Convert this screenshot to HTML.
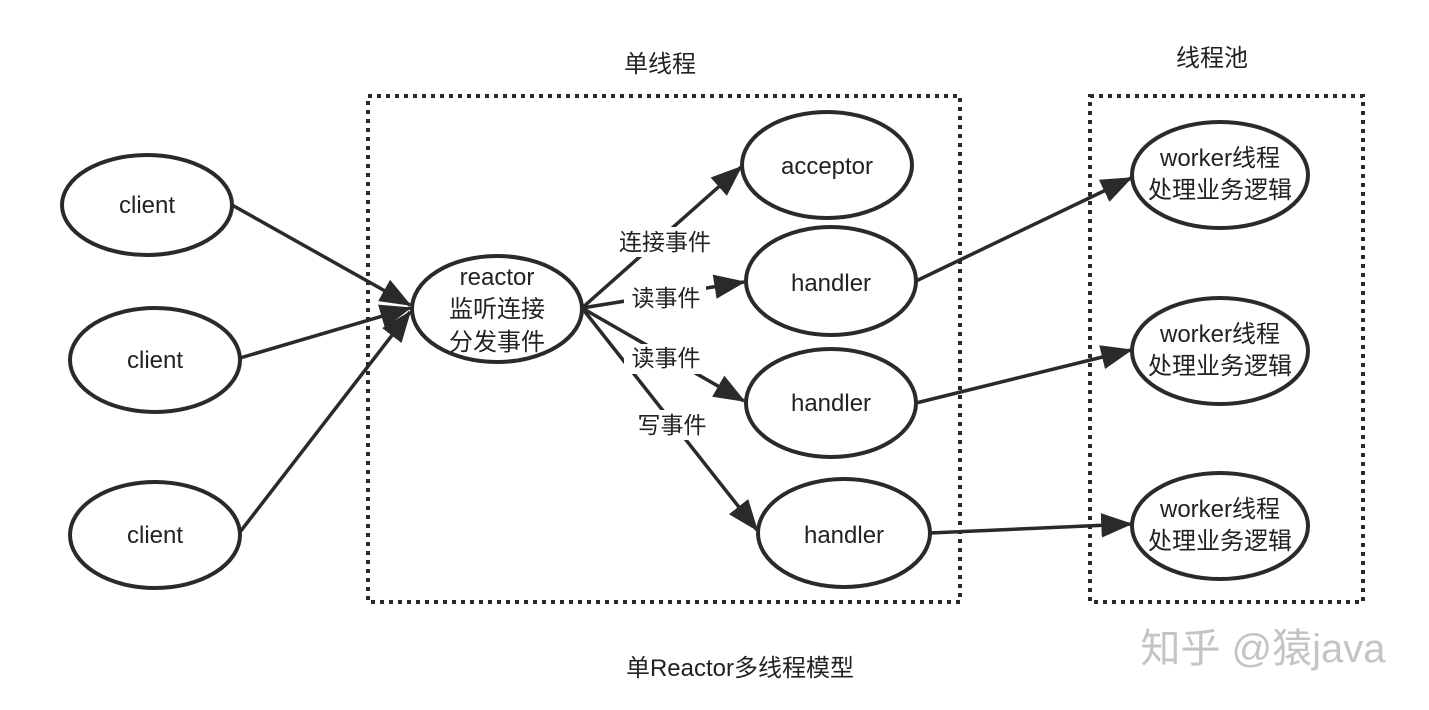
<!DOCTYPE html>
<html><head><meta charset="utf-8"><style>
html,body{margin:0;padding:0;background:#fff;}
svg{display:block;}
text{font-family:"Liberation Sans","Noto Sans CJK SC",sans-serif;fill:#222;}
</style></head><body>
<svg width="1429" height="710" viewBox="0 0 1429 710" xmlns="http://www.w3.org/2000/svg">
<defs>
<marker id="a" markerWidth="9" markerHeight="7" refX="8.5" refY="3.5" orient="auto" markerUnits="strokeWidth">
<path d="M0,0 L9,3.5 L0,7 Z" fill="#2a2a2a"/>
</marker>
</defs>
<g fill="none" stroke="#2a2a2a" stroke-width="4" stroke-dasharray="4,5">
<rect x="368" y="96" width="592" height="506"/>
<rect x="1090" y="96" width="273" height="506"/>
</g>
<text x="660" y="72" font-size="24" text-anchor="middle">单线程</text>
<text x="1212" y="66" font-size="24" text-anchor="middle">线程池</text>
<text x="740" y="676" font-size="24" text-anchor="middle">单Reactor多线程模型</text>
<text x="1263" y="662" font-size="40" text-anchor="middle" style="fill:#c4c4c4">知乎 @猿java</text>

<g stroke="#2a2a2a" stroke-width="3.5" fill="none" marker-end="url(#a)">
<line x1="232" y1="205" x2="410" y2="305"/>
<line x1="240" y1="358" x2="410" y2="308"/>
<line x1="240" y1="532" x2="410" y2="312"/>
<line x1="582" y1="308" x2="741" y2="167"/>
<line x1="582" y1="308" x2="744" y2="282"/>
<line x1="582" y1="308" x2="744" y2="401"/>
<line x1="582" y1="308" x2="757" y2="530"/>
<line x1="916" y1="281" x2="1131" y2="178"/>
<line x1="916" y1="403" x2="1131" y2="350"/>
<line x1="930" y1="533" x2="1131" y2="524"/>
</g>

<g fill="#fff">
<rect x="610" y="227" width="110" height="30"/>
<rect x="624" y="284" width="82" height="30"/>
<rect x="624" y="344" width="82" height="30"/>
<rect x="630" y="410" width="84" height="30"/>
</g>
<g font-size="23" text-anchor="middle">
<text x="665" y="250">连接事件</text>
<text x="666" y="306">读事件</text>
<text x="666" y="366">读事件</text>
<text x="672" y="433">写事件</text>
</g>

<g fill="#fff" stroke="#2a2a2a" stroke-width="4">
<ellipse cx="147" cy="205" rx="85" ry="50"/>
<ellipse cx="155" cy="360" rx="85" ry="52"/>
<ellipse cx="155" cy="535" rx="85" ry="53"/>
<ellipse cx="497" cy="309" rx="85" ry="53"/>
<ellipse cx="827" cy="165" rx="85" ry="53"/>
<ellipse cx="831" cy="281" rx="85" ry="54"/>
<ellipse cx="831" cy="403" rx="85" ry="54"/>
<ellipse cx="844" cy="533" rx="86" ry="54"/>
<ellipse cx="1220" cy="175" rx="88" ry="53"/>
<ellipse cx="1220" cy="351" rx="88" ry="53"/>
<ellipse cx="1220" cy="526" rx="88" ry="53"/>
</g>
<g font-size="24" text-anchor="middle">
<text x="147" y="213">client</text>
<text x="155" y="368">client</text>
<text x="155" y="543">client</text>
<text x="497" y="285">reactor</text>
<text x="497" y="317">监听连接</text>
<text x="497" y="350">分发事件</text>
<text x="827" y="174">acceptor</text>
<text x="831" y="291">handler</text>
<text x="831" y="411">handler</text>
<text x="844" y="543">handler</text>
<text x="1220" y="166">worker线程</text>
<text x="1220" y="198">处理业务逻辑</text>
<text x="1220" y="342">worker线程</text>
<text x="1220" y="374">处理业务逻辑</text>
<text x="1220" y="517">worker线程</text>
<text x="1220" y="549">处理业务逻辑</text>
</g>
</svg>
</body></html>
